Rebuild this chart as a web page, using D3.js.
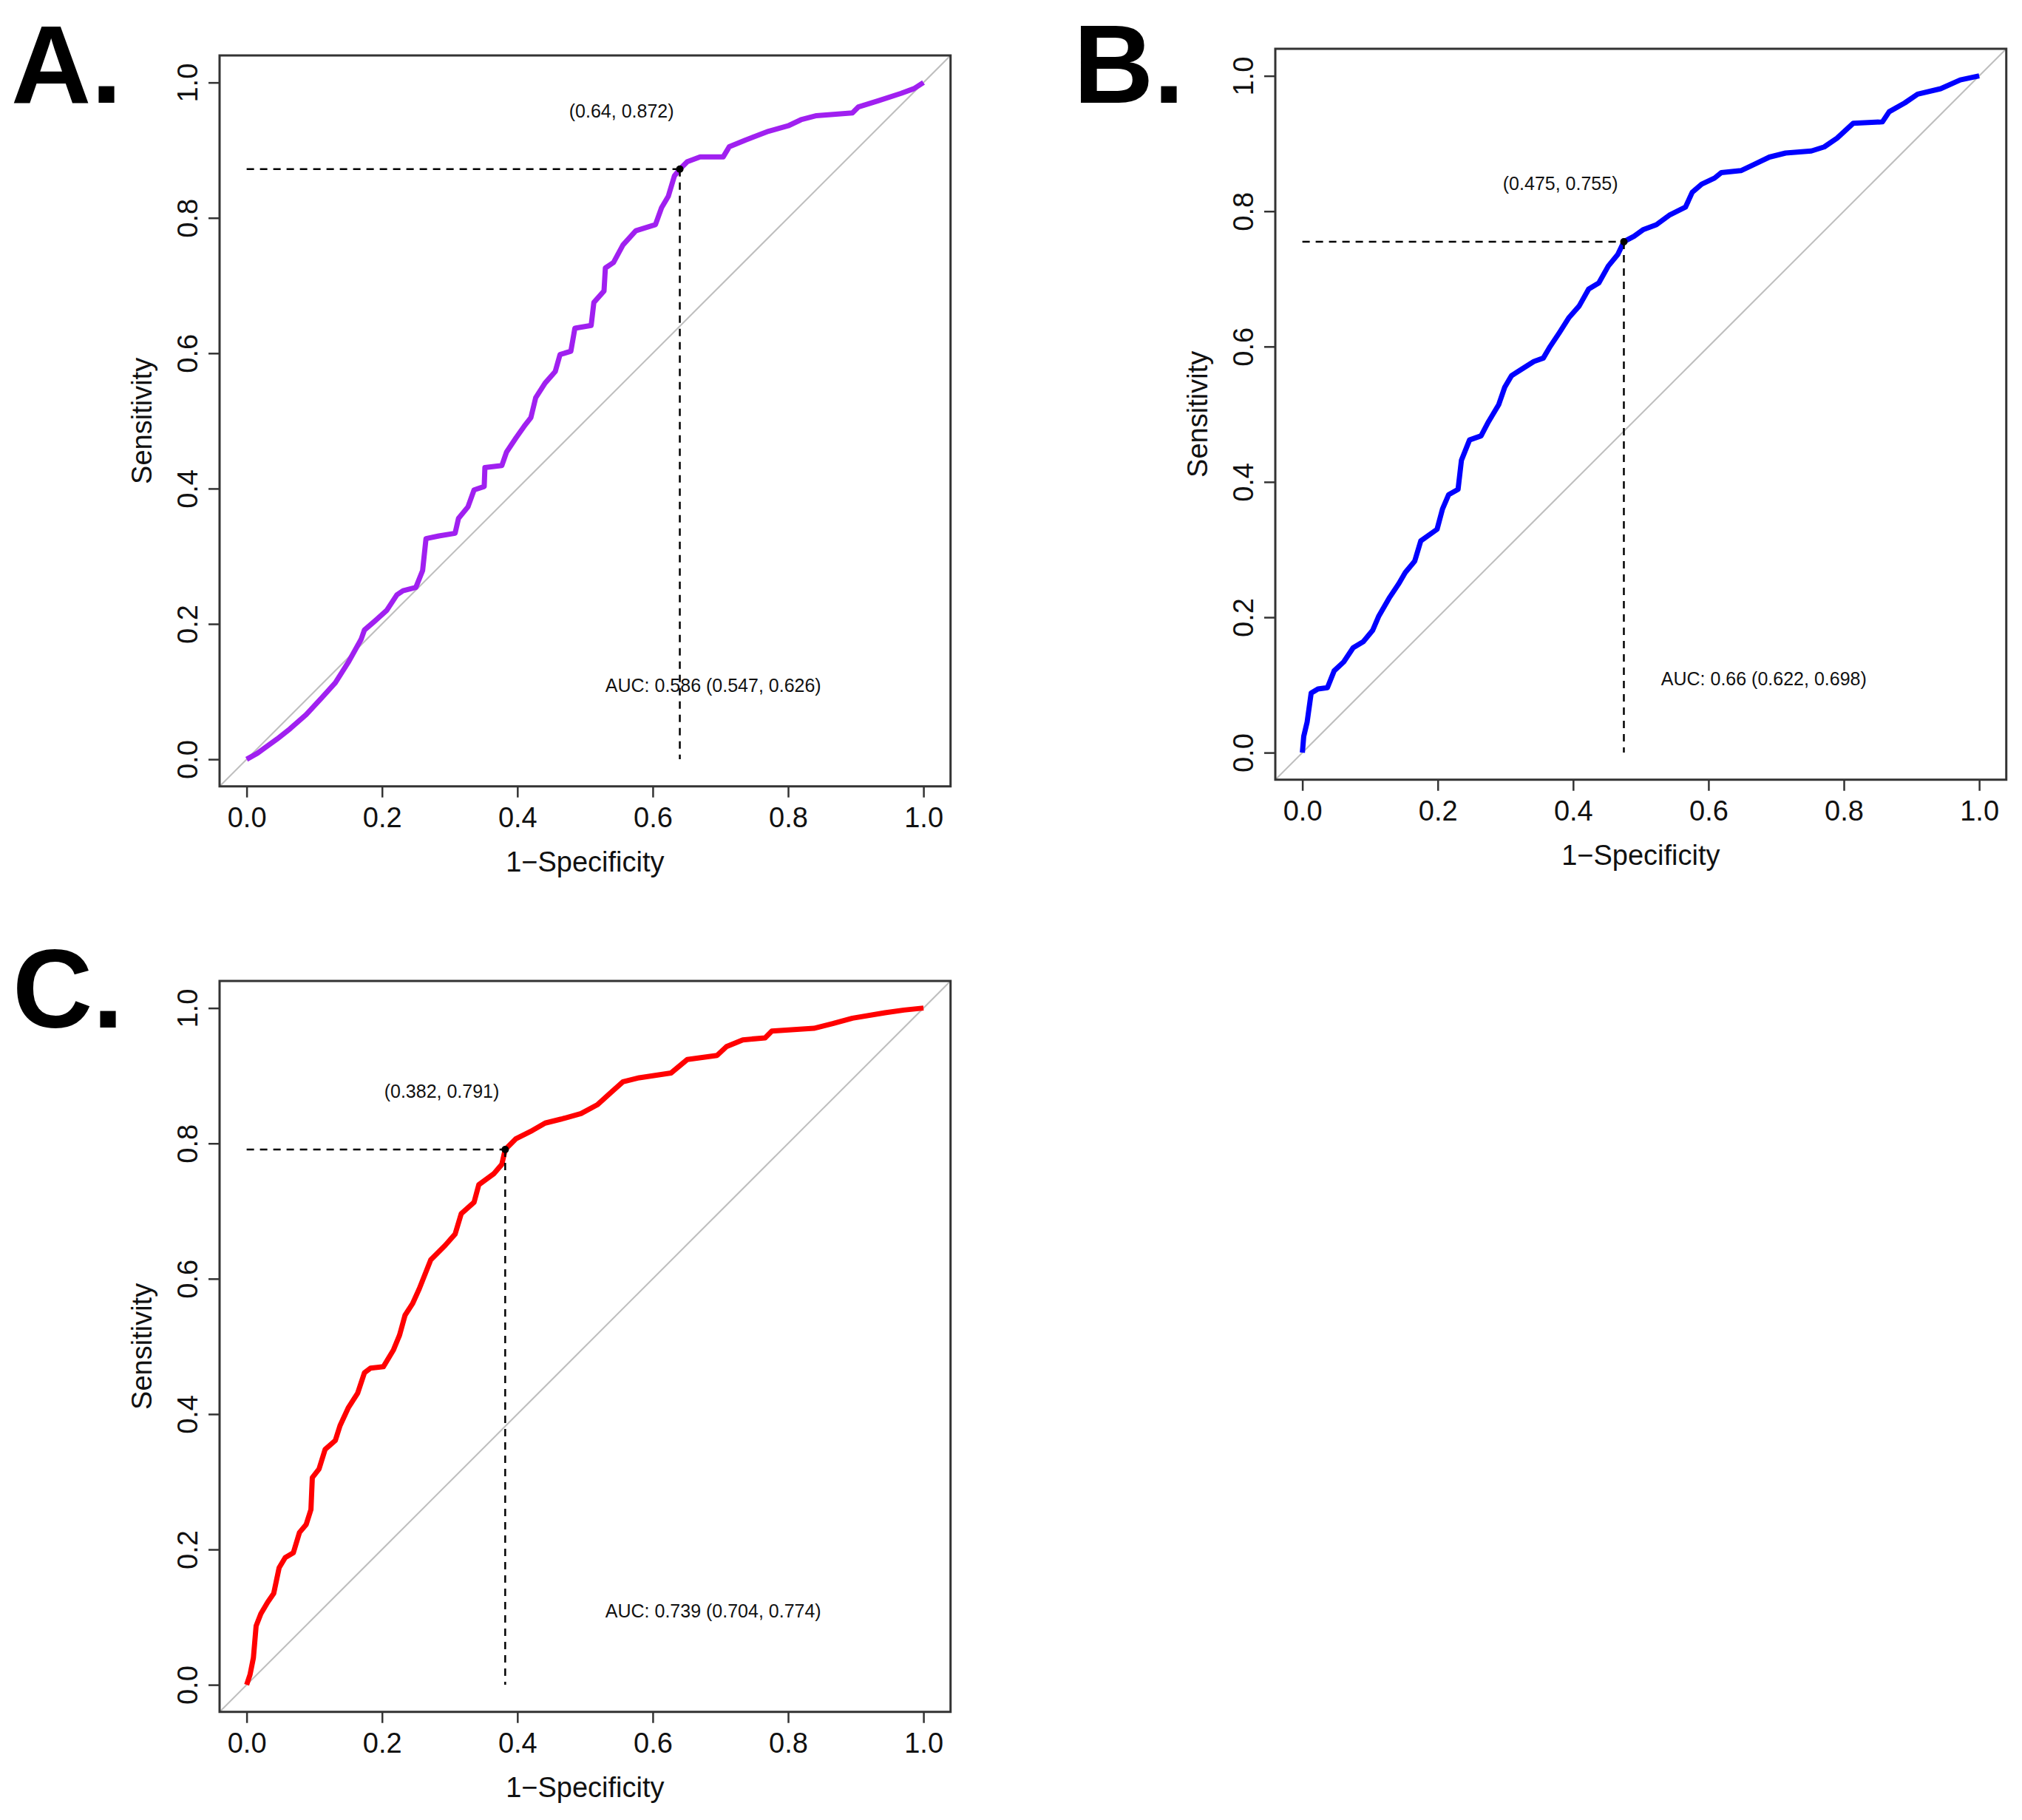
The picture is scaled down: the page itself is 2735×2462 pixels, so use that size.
<!DOCTYPE html>
<html>
<head>
<meta charset="utf-8">
<script src="https://cdn.jsdelivr.net/npm/d3@7"></script>
<style>
  body { margin: 0; background: #fff; }
  svg { display: block; }
  text { font-family: "Liberation Sans", Arial, Helvetica, sans-serif; }
</style>
</head>
<body>
<svg id="fig" width="2735" height="2462"></svg>
<script>
// tick values shared by all panels
var ticks = [0, 0.2, 0.4, 0.6, 0.8, 1.0];

// A. 1-specificity / sensitivity
var fprA = [0, 0.016, 0.045, 0.064, 0.088, 0.112, 0.131, 0.15, 0.169, 0.174, 0.188, 0.207, 0.222, 0.231, 0.25, 0.26, 0.265, 0.284, 0.308, 0.313, 0.327, 0.336, 0.351, 0.352, 0.377, 0.384, 0.398, 0.41, 0.42, 0.427, 0.441, 0.456, 0.463, 0.479, 0.485, 0.509, 0.513, 0.528, 0.53, 0.542, 0.556, 0.575, 0.604, 0.613, 0.623, 0.632, 0.64, 0.651, 0.67, 0.704, 0.713, 0.737, 0.771, 0.8, 0.819, 0.842, 0.895, 0.904, 0.933, 0.967, 0.986, 1];
var senA = [0, 0.009, 0.03, 0.045, 0.066, 0.092, 0.113, 0.143, 0.177, 0.191, 0.203, 0.22, 0.243, 0.249, 0.254, 0.279, 0.326, 0.33, 0.334, 0.356, 0.373, 0.398, 0.403, 0.431, 0.434, 0.454, 0.475, 0.492, 0.505, 0.534, 0.556, 0.573, 0.598, 0.603, 0.637, 0.641, 0.675, 0.692, 0.726, 0.734, 0.76, 0.781, 0.79, 0.815, 0.832, 0.862, 0.872, 0.883, 0.89, 0.89, 0.905, 0.915, 0.928, 0.936, 0.945, 0.951, 0.955, 0.964, 0.973, 0.984, 0.991, 1];

// B.
var fprB = [0, 0.002, 0.007, 0.013, 0.023, 0.037, 0.047, 0.061, 0.075, 0.09, 0.104, 0.113, 0.128, 0.142, 0.152, 0.166, 0.175, 0.199, 0.207, 0.216, 0.23, 0.235, 0.247, 0.264, 0.275, 0.29, 0.299, 0.309, 0.323, 0.342, 0.356, 0.366, 0.38, 0.394, 0.409, 0.423, 0.438, 0.452, 0.466, 0.475, 0.49, 0.504, 0.523, 0.542, 0.566, 0.576, 0.59, 0.609, 0.619, 0.648, 0.667, 0.69, 0.714, 0.752, 0.771, 0.79, 0.814, 0.857, 0.867, 0.89, 0.909, 0.943, 0.972, 1];
var senB = [0, 0.024, 0.045, 0.088, 0.094, 0.096, 0.121, 0.134, 0.155, 0.164, 0.181, 0.202, 0.228, 0.249, 0.266, 0.283, 0.313, 0.33, 0.36, 0.381, 0.389, 0.432, 0.462, 0.468, 0.489, 0.514, 0.54, 0.557, 0.566, 0.578, 0.583, 0.6, 0.621, 0.643, 0.66, 0.685, 0.694, 0.719, 0.736, 0.755, 0.763, 0.773, 0.78, 0.794, 0.806, 0.828, 0.84, 0.849, 0.857, 0.86, 0.869, 0.88, 0.886, 0.889, 0.895, 0.908, 0.93, 0.932, 0.947, 0.96, 0.973, 0.981, 0.994, 1];

// C.
var fprC = [0, 0.005, 0.01, 0.014, 0.021, 0.031, 0.04, 0.048, 0.057, 0.069, 0.078, 0.088, 0.095, 0.097, 0.107, 0.116, 0.131, 0.138, 0.15, 0.164, 0.174, 0.183, 0.202, 0.217, 0.226, 0.234, 0.245, 0.255, 0.272, 0.293, 0.308, 0.317, 0.336, 0.343, 0.365, 0.377, 0.382, 0.398, 0.422, 0.441, 0.465, 0.494, 0.518, 0.537, 0.556, 0.58, 0.627, 0.651, 0.695, 0.709, 0.733, 0.766, 0.776, 0.838, 0.866, 0.895, 0.943, 0.971, 1];
var senC = [0, 0.015, 0.04, 0.087, 0.105, 0.122, 0.135, 0.173, 0.188, 0.195, 0.225, 0.237, 0.259, 0.306, 0.319, 0.348, 0.361, 0.383, 0.409, 0.431, 0.461, 0.468, 0.47, 0.495, 0.517, 0.546, 0.563, 0.585, 0.628, 0.649, 0.666, 0.696, 0.713, 0.739, 0.755, 0.769, 0.791, 0.807, 0.819, 0.83, 0.836, 0.844, 0.857, 0.874, 0.891, 0.897, 0.904, 0.924, 0.93, 0.943, 0.953, 0.956, 0.966, 0.97, 0.977, 0.985, 0.993, 0.997, 1];

// best thresholds (1-specificity, sensitivity) and AUC labels
var bestA = [0.64, 0.872], bestB = [0.475, 0.755], bestC = [0.382, 0.791];
var aucA = 'AUC: 0.586 (0.547, 0.626)';
var aucB = 'AUC: 0.66 (0.622, 0.698)';
var aucC = 'AUC: 0.739 (0.704, 0.774)';
var letters = ['A.', 'B.', 'C.'];
var colors = ['#A020F0', '#0000FF', '#FF0000'];

var svg = d3.select('#fig');
var unit = 915.5;   // pixels per 1.0 in both directions (square plot)

function drawPanel(letter, fpr, sen, best, auc, color, left, top, letterX, letterY) {
	var w = unit * 1.08, h = unit * 1.08;
	var x = d3.scaleLinear().domain([-0.04, 1.04]).range([left, left + w]);
	var y = d3.scaleLinear().domain([-0.04, 1.04]).range([top + h, top]);
	var g = svg.append('g');

	//panel letter
	svg.append('text')
		.attr('x', letterX).attr('y', letterY)
		.attr('font-size', 150).attr('font-weight', 'bold')
		.text(letter);

	//diagonal reference
	g.append('line')
		.attr('x1', x(-0.04)).attr('y1', y(-0.04))
		.attr('x2', x(1.04)).attr('y2', y(1.04))
		.attr('stroke', '#bebebe').attr('stroke-width', 2);

	//axes
	var xa = g.append('g')
		.attr('transform', 'translate(0,' + (top + h) + ')')
		.call(d3.axisBottom(x).tickValues(ticks).tickFormat(d3.format('.1f')).tickSize(15));
	xa.select('.domain').remove();
	xa.selectAll('line').attr('stroke', '#333').attr('stroke-width', 2.5);
	xa.selectAll('text').attr('y', 42).attr('dy', '0.35em')
		.attr('font-size', 38).attr('fill', '#111')
		.attr('font-family', '"Liberation Sans", Arial, sans-serif');

	var ya = g.append('g')
		.attr('transform', 'translate(' + left + ',0)')
		.call(d3.axisLeft(y).tickValues(ticks).tickFormat(d3.format('.1f')).tickSize(15));
	ya.select('.domain').remove();
	ya.selectAll('line').attr('stroke', '#333').attr('stroke-width', 2.5);
	ya.selectAll('text')
		.attr('x', 0).attr('y', 0).attr('dy', '0.35em')
		.attr('text-anchor', 'middle')
		.attr('transform', 'translate(-43,0) rotate(-90)')
		.attr('font-size', 38).attr('fill', '#111')
		.attr('font-family', '"Liberation Sans", Arial, sans-serif');

	//axis titles
	g.append('text')
		.attr('x', x(0.5)).attr('y', top + h + 102).attr('dy', '0.35em')
		.attr('text-anchor', 'middle').attr('font-size', 38).attr('fill', '#111')
		.text('1\u2212Specificity');
	g.append('text')
		.attr('transform', 'translate(' + (left - 105) + ',' + y(0.5) + ') rotate(-90)')
		.attr('dy', '0.35em')
		.attr('text-anchor', 'middle').attr('font-size', 38).attr('fill', '#111')
		.text('Sensitivity');

	//ROC curve
	var pts = d3.zip(fpr, sen);
	g.append('path')
		.datum(pts)
		.attr('d', d3.line().x(function(d){return x(d[0]);}).y(function(d){return y(d[1]);}))
		.attr('fill', 'none').attr('stroke', color)
		.attr('stroke-width', 7).attr('stroke-linejoin', 'round');

	//threshold guides
	g.append('line')
		.attr('x1', x(0)).attr('y1', y(best[1]))
		.attr('x2', x(best[0])).attr('y2', y(best[1]))
		.attr('stroke', '#000').attr('stroke-width', 2.5).attr('stroke-dasharray', '10,8');
	g.append('line')
		.attr('x1', x(best[0])).attr('y1', y(best[1]))
		.attr('x2', x(best[0])).attr('y2', y(0))
		.attr('stroke', '#000').attr('stroke-width', 2.5).attr('stroke-dasharray', '10,8');
	g.append('circle')
		.attr('cx', x(best[0])).attr('cy', y(best[1])).attr('r', 5).attr('fill', '#000');

	g.append('text')
		.attr('x', x(best[0]) - 8).attr('y', y(best[1]) - 70)
		.attr('text-anchor', 'end').attr('font-size', 25).attr('fill', '#111')
		.text('(' + best[0] + ', ' + best[1] + ')');

	g.append('text')
		.attr('x', x(0.53)).attr('y', y(0.1))
		.attr('font-size', 25).attr('fill', '#111')
		.text(auc);

	//frame
	g.append('rect')
		.attr('x', left).attr('y', top).attr('width', w).attr('height', h)
		.attr('fill', 'none').attr('stroke', '#333').attr('stroke-width', 3);
}

drawPanel(letters[0], fprA, senA, bestA, aucA, colors[0], 297, 75, 15, 139);
drawPanel(letters[1], fprB, senB, bestB, aucB, colors[1], 1725, 66, 1452, 139);
drawPanel(letters[2], fprC, senC, bestC, aucC, colors[2], 297, 1327, 17, 1390);
</script>
</body>
</html>
